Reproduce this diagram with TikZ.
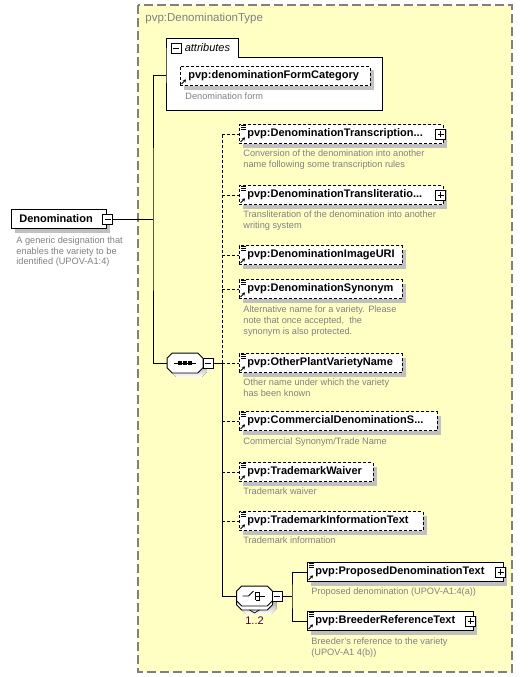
\documentclass[tikz,border=0pt]{standalone}
\usepackage{fontspec}
\setmainfont{Liberation Sans}
\usetikzlibrary{positioning,shadows,arrows.meta}
\definecolor{typebg}{RGB}{255,255,196}
\definecolor{typeline}{RGB}{128,128,128}
\definecolor{shade}{RGB}{192,192,192}
\definecolor{doctext}{RGB}{128,128,128}
\definecolor{occurs}{RGB}{64,0,64}

\begin{document}
\begin{tikzpicture}[x=1pt,y=-1pt,line width=0.8pt,
    elem/.style={draw,fill=white,anchor=west,minimum height=19pt,inner ysep=0pt,inner xsep=8pt,
      text width=#1-16pt,align=left,font=\bfseries\fontsize{11}{11}\selectfont,
      general shadow={fill=shade,shadow xshift=4pt,shadow yshift=-4pt}},
    optelem/.style={elem=#1,dash pattern=on 3pt off 2pt},
    doc/.style={anchor=north west,inner sep=0pt,align=left,text=doctext,font=\fontsize{9.2}{11}\selectfont},
    pm/.style={draw,fill=white,minimum size=10pt,inner sep=0pt,line width=0.8pt},
    plusbox/.style={pm,path picture={
      \draw ([xshift=2pt]path picture bounding box.west) -- ([xshift=-2pt]path picture bounding box.east);
      \draw ([yshift=-2pt]path picture bounding box.north) -- ([yshift=2pt]path picture bounding box.south);}},
    minusbox/.style={pm,path picture={
      \draw ([xshift=2pt]path picture bounding box.west) -- ([xshift=-2pt]path picture bounding box.east);}},
    compositor/.style={minimum width=35pt,minimum height=19pt,inner sep=0pt},
    optline/.style={dash pattern=on 3pt off 2pt}]
\useasboundingbox (0,0) rectangle (531,677);

% complex type frame
\filldraw[fill=typebg,draw=typeline,line width=1.2pt,dash pattern=on 9pt off 4pt] (138,5) rectangle (512,672);
\node[anchor=west,inner sep=0pt,text=typeline,font=\fontsize{11.5}{11.5}\selectfont] (typename) at (145,19) {pvp:DenominationType};

% attributes
\filldraw[fill=white] (166,57) -- (166,38) -- (238,38) -- (238,57) -- (382,57) -- (382,110) -- (166,110) -- cycle;
\node[minusbox] (attrpm) at (176,48) {};
\node[right=3pt of attrpm,inner sep=0pt,font=\itshape\fontsize{11}{11}\selectfont] (attrlabel) {attributes};
\node[optelem=190pt] (fc) at (180,76) {pvp:denominationFormCategory};
\node[doc,below=7pt of fc.south west,anchor=north west,xshift=5pt] (fcdoc) {Denomination form};
\coordinate (attrleft) at (166,75);

% root element
\node[elem=95pt] (denom) at (11,219) {Denomination};
\node[minusbox] (dpm) at ([xshift=1pt]denom.east) {};
\node[doc,below=8pt of denom.south west,anchor=north west,xshift=5pt,font=\fontsize{9.2}{10.5}\selectfont] (denomdoc)
  {A generic designation that\\enables the variety to be\\identified (UPOV-A1:4)};

% sequence children
\node[optelem=204pt] (t1) at (239,134) {pvp:DenominationTranscription...};
\node[optelem=204pt] (t2) at (239,195) {pvp:DenominationTransliteratio...};
\node[optelem=163pt] (t3) at (239,255) {pvp:DenominationImageURI};
\node[optelem=163pt] (t4) at (239,289) {pvp:DenominationSynonym};
\node[optelem=163pt] (t5) at (239,363) {pvp:OtherPlantVarietyName};
\node[optelem=198pt] (t6) at (239,421) {pvp:CommercialDenominationS...};
\node[optelem=134pt] (t7) at (239,472) {pvp:TrademarkWaiver};
\node[optelem=184pt] (t8) at (239,521) {pvp:TrademarkInformationText};

\node[doc,below=6pt of t1.south west,anchor=north west,xshift=4pt] (t1doc)
  {Conversion of the denomination into another\\name following some transcription rules};
\node[doc,below=6pt of t2.south west,anchor=north west,xshift=4pt] (t2doc)
  {Transliteration of the denomination into another\\writing system};
\node[doc,below=7pt of t4.south west,anchor=north west,xshift=4pt] (t4doc)
  {Alternative name for a variety. Please\\note that once accepted,\ \ the\\synonym is also protected.};
\node[doc,below=6pt of t5.south west,anchor=north west,xshift=4pt] (t5doc)
  {Other name under which the variety\\has been known};
\node[doc,below=7pt of t6.south west,anchor=north west,xshift=4pt] (t6doc) {Commercial Synonym/Trade Name};
\node[doc,below=6pt of t7.south west,anchor=north west,xshift=4pt] (t7doc) {Trademark waiver};
\node[doc,below=6pt of t8.south west,anchor=north west,xshift=4pt] (t8doc) {Trademark information};

% choice children
\node[elem=196pt] (c1) at (307,572) {pvp:ProposedDenominationText};
\node[elem=166pt] (c2) at (307,621) {pvp:BreederReferenceText};
\node[doc,below=6pt of c1.south west,anchor=north west,xshift=4pt] (c1doc) {Proposed denomination (UPOV-A1:4(a))};
\node[doc,below=7pt of c2.south west,anchor=north west,xshift=4pt] (c2doc)
  {Breeder's reference to the variety\\(UPOV-A1 4(b))};

% expand boxes
\foreach \n in {t1,t2,c1,c2}
  \node[plusbox] (\n pm) at ([xshift=-3pt]\n.east) {};

% element icons
\foreach \n in {fc,t1,t2,t3,t4,t5,t6,t7,t8,c1,c2}
  \draw[-{Stealth[length=3pt,width=3.5pt]},line width=0.9pt] ([shift={(1.5,-2)}]\n.south west) -- ++(4.5,-4.5);
\foreach \n in {t1,t2,t3,t4,t5,t6,t7,t8,c1,c2}
  \foreach \dy in {1,3,5}
    \draw[line width=0.7pt] ([shift={(2,\dy)}]\n.north west) -- ++(5,0);

% compositors
\node[compositor] (seq) at (185,363) {};
\node[compositor] (chback) at (254.5,600) {};
\node[compositor] (ch) at (254.5,596) {};
\foreach \n/\s in {seq/4,chback/4,ch/0}
  \fill[shade] ([shift={(5+\s,\s)}]\n.north west) -- ([shift={(-5+\s,\s)}]\n.north east) -- ([shift={(\s,5+\s)}]\n.north east)
    -- ([shift={(\s,-5+\s)}]\n.south east) -- ([shift={(-5+\s,\s)}]\n.south east) -- ([shift={(5+\s,\s)}]\n.south west)
    -- ([shift={(\s,-5+\s)}]\n.south west) -- ([shift={(\s,5+\s)}]\n.north west) -- cycle;
\foreach \n in {seq,chback,ch}
  \filldraw[fill=white] ([shift={(5,0)}]\n.north west) -- ([shift={(-5,0)}]\n.north east) -- ([shift={(0,5)}]\n.north east)
    -- ([shift={(0,-5)}]\n.south east) -- ([shift={(-5,0)}]\n.south east) -- ([shift={(5,0)}]\n.south west)
    -- ([shift={(0,-5)}]\n.south west) -- ([shift={(0,5)}]\n.north west) -- cycle;
\draw[line width=0.7pt] ([shift={(-5,0)}]chback.south) -- ([shift={(0,3)}]chback.south) -- ([shift={(5,0)}]chback.south);

% sequence symbol
\node[minusbox] (seqpm) at ([xshift=5pt]seq.east) {};
\draw ([xshift=-11pt]seq.center) -- ([xshift=11pt]seq.center);
\foreach \dx in {-5,0,5}
  \fill ([shift={(\dx-1.7,-1.7)}]seq.center) rectangle ++(3.4,3.4);

% choice symbol
\node[minusbox] (chpm) at ([xshift=5pt]ch.east) {};
\draw ([xshift=-12pt]ch.center) -- ([xshift=-6pt]ch.center) -- ([shift={(-1,-5)}]ch.center);
\draw ([shift={(1,-4)}]ch.center) -- ([shift={(1,4)}]ch.center);
\foreach \dy in {-4,0,4}
  \draw ([shift={(1,\dy)}]ch.center) -- ([shift={(5,\dy)}]ch.center);
\draw ([shift={(5,-4)}]ch.center) -- ([shift={(5,4)}]ch.center);
\draw ([shift={(5,0)}]ch.center) -- ([shift={(10,0)}]ch.center);
\node[below=11pt of ch,inner sep=0pt,text=occurs,font=\fontsize{11}{11}\selectfont] (chocc) {1..2};

% connectors
\coordinate (mainbar) at (153,219);
\coordinate (seqbar) at (222,363);
\coordinate (chbar) at (292,596);
\draw (dpm.east) -- (mainbar);
\draw (attrleft) -| (mainbar) |- (seq.west);
\draw (seqpm.east) -- (seqbar);
\draw[optline] (seqbar) -- (seqbar |- t1.west);
\draw (seqbar) -- (seqbar |- ch.west) -- (ch.west);
\foreach \n in {t1,t2,t3,t4,t5,t6,t7,t8}
  \draw[optline] (seqbar |- \n.west) -- (\n.west);
\draw (chpm.east) -- (chbar);
\draw (c1.west) -| (chbar) |- (c2.west);
\end{tikzpicture}
\end{document}
